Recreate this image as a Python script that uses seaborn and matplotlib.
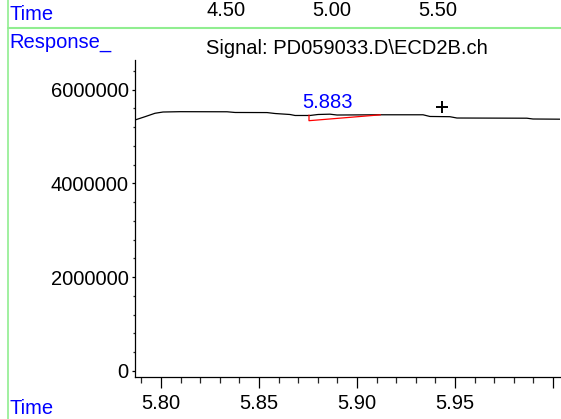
import numpy as np
import matplotlib
matplotlib.use('Agg')
import matplotlib.pyplot as plt
from matplotlib.lines import Line2D
from matplotlib.ticker import MultipleLocator
import pandas as pd
import seaborn as sns

# signal trace
time = [5.7867, 5.7918, 5.7969, 5.8010, 5.8097, 5.8337, 5.8378, 5.8541, 5.8582,
        5.8658, 5.8684, 5.8760, 5.8801, 5.8862, 5.8898, 5.9117, 5.9337, 5.9372,
        5.9474, 5.9510, 5.9867, 5.9898, 6.0036]
response = [5352000, 5422000, 5495000, 5522000, 5529000, 5527000, 5512000, 5510000,
            5490000, 5469000, 5448000, 5448000, 5469000, 5476000, 5458000, 5463000,
            5463000, 5427000, 5422000, 5394000, 5390000, 5373000, 5369000]

# integration baseline of the peak
base_time = [5.8755, 5.8755, 5.9120]
base_resp = [5458000, 5337000, 5462000]

peak_rt = 5.883
peak_label_pos = (5.8847, 5608000)
cursor = (5.9434, 5622000)

x_ticks = [5.80, 5.85, 5.90, 5.95, 6.00]
x_labels = ['5.80', '5.85', '5.90', '5.95', '']
y_ticks = [0, 2000000, 4000000, 6000000]
y_labels = ['0', '2000000', '4000000', '6000000']

overview_ticks = [4.50, 5.00, 5.50]
overview_labels = ['4.50', '5.00', '5.50']

title = 'Signal: PD059033.D\\ECD2B.ch'

sns.set_style('white')
plt.rcParams['font.family'] = ['Liberation Sans', 'DejaVu Sans']
fs = 14.5
blue = '#0000ff'
green = '#90ee90'

W, H = 561, 419
fig = plt.figure(figsize=(W / 100, H / 100), dpi=100)

# main chromatogram axes
ax = fig.add_axes([135 / W, (H - 377) / H, 425 / W, 317 / H])
df = pd.DataFrame({'time': time, 'response': response})
sns.lineplot(data=df, x='time', y='response', color='black', linewidth=0.9, ax=ax)
ax.plot(base_time, base_resp, color='red', linewidth=0.9)
ax.plot([cursor[0]], [cursor[1]], marker='+', color='black', markersize=9, mew=1.4)
ax.text(peak_label_pos[0], peak_label_pos[1], f'{peak_rt:.3f}', color=blue,
        fontsize=fs, ha='center', va='baseline')

ax.set_xlim(5.7867, 6.0036)
ax.set_ylim(-128000, 6631000)
ax.set_xticks(x_ticks)
ax.set_xticklabels(x_labels)
ax.set_yticks(y_ticks)
ax.set_yticklabels(y_labels)
ax.xaxis.set_minor_locator(MultipleLocator(0.01))
ax.yaxis.set_minor_locator(MultipleLocator(400000))
ax.set_xlabel('')
ax.set_ylabel('')
for s in ['top', 'right']:
    ax.spines[s].set_visible(False)
for s in ['left', 'bottom']:
    ax.spines[s].set_color('black')
    ax.spines[s].set_linewidth(0.9)
ax.tick_params(axis='x', which='major', length=8, width=0.9, direction='out',
               bottom=True, labelsize=fs, pad=4, colors='black')
ax.tick_params(axis='x', which='minor', length=4, width=0.9, direction='out', bottom=True)
ax.tick_params(axis='y', which='major', length=2.5, width=0.9, direction='out',
               left=True, labelsize=fs, pad=2, colors='black')
ax.tick_params(axis='y', which='minor', length=1.5, width=0.9, direction='out', left=True)

# overview time strip at the top
top = fig.add_axes([0, (H - 28) / H, 1, 28 / H])
top.set_xlim(3.434, 6.08)
top.set_ylim(0, 1)
top.axis('off')
for t, lab in zip(overview_ticks, overview_labels):
    top.text(t, 0.64, lab, ha='center', va='center', fontsize=fs, color='black')

fig.text(9 / W, 1 - 15 / H, 'Time', color=blue, fontsize=fs, ha='left', va='center')
fig.text(9 / W, 1 - 43 / H, 'Response_', color=blue, fontsize=fs, ha='left', va='center')
fig.text(347 / W, 1 - 48 / H, title, color='black', fontsize=fs, ha='center', va='center')
fig.text(9 / W, 1 - 408 / H, 'Time', color=blue, fontsize=fs, ha='left', va='center')

fig.add_artist(Line2D([8 / W, 1], [1 - 28 / H] * 2, transform=fig.transFigure,
                      color=green, linewidth=1.5))
fig.add_artist(Line2D([8 / W] * 2, [0, 1], transform=fig.transFigure,
                      color=green, linewidth=1.2))

fig.savefig('out.png', dpi=100)
